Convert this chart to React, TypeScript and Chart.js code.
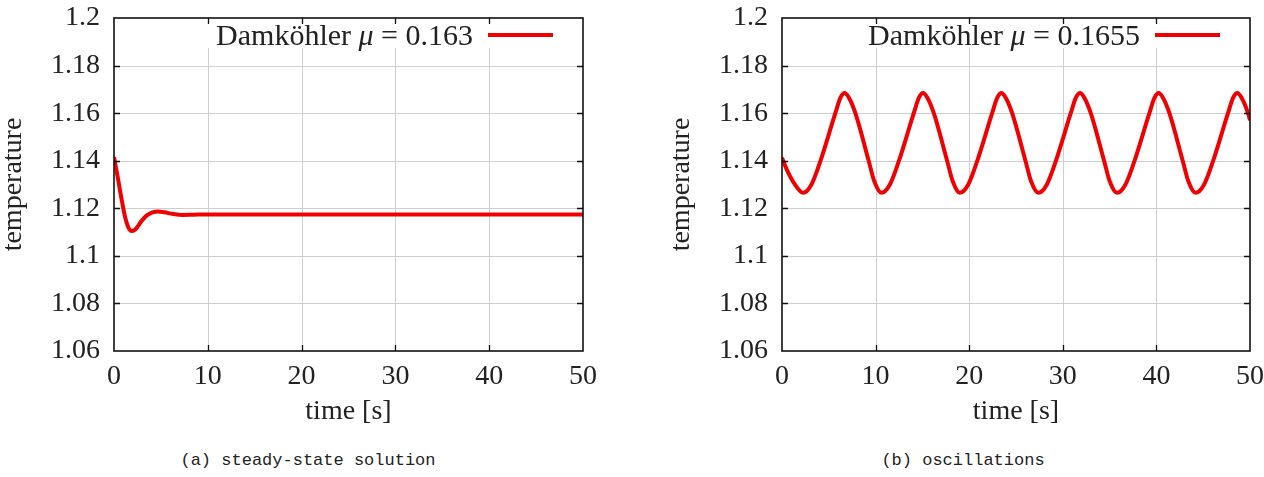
import React, { useEffect, useRef } from "react";
import { Chart, registerables } from "chart.js";

Chart.register(...registerables);

// ---------- data ----------
const timeSteady = [0, 0.4, 0.8, 1.2, 1.55, 1.9, 2.3, 2.9, 3.5, 4.1, 4.7, 5.4, 6.3, 7.3, 8.5, 10, 20, 30, 40, 50];
const tempSteady = [1.1415, 1.133, 1.124, 1.116, 1.1118, 1.1105, 1.1112, 1.1145, 1.117, 1.1183, 1.1187, 1.1183, 1.1176, 1.1172, 1.1173, 1.1174, 1.1174, 1.1174, 1.1174, 1.1174];

const timeOsc = [
  0, 0.6, 1.3, 2.25,
  3.15, 4.12, 5.7, 6.25, 6.69, 7.15, 7.84, 9.26, 9.85, 10.63,
  11.53, 12.5, 14.08, 14.63, 15.07, 15.53, 16.22, 17.64, 18.23, 19.0,
  19.9, 20.87, 22.45, 23.0, 23.44, 23.9, 24.59, 26.01, 26.6, 27.4,
  28.3, 29.27, 30.85, 31.4, 31.84, 32.3, 32.99, 34.41, 35.0, 35.8,
  36.7, 37.67, 39.25, 39.8, 40.24, 40.7, 41.39, 42.81, 43.4, 44.2,
  45.1, 46.07, 47.65, 48.2, 48.64, 49.1, 49.79, 50,
];
const tempOsc = [
  1.1412, 1.1355, 1.1305, 1.1265,
  1.13, 1.14, 1.16, 1.1665, 1.1685, 1.1665, 1.16, 1.14, 1.1315, 1.1265,
  1.13, 1.14, 1.16, 1.1665, 1.1685, 1.1665, 1.16, 1.14, 1.1315, 1.1265,
  1.13, 1.14, 1.16, 1.1665, 1.1685, 1.1665, 1.16, 1.14, 1.1315, 1.1265,
  1.13, 1.14, 1.16, 1.1665, 1.1685, 1.1665, 1.16, 1.14, 1.1315, 1.1265,
  1.13, 1.14, 1.16, 1.1665, 1.1685, 1.1665, 1.16, 1.14, 1.1315, 1.1265,
  1.13, 1.14, 1.16, 1.1665, 1.1685, 1.1665, 1.16, 1.157,
];

const xTickValues = [0, 10, 20, 30, 40, 50];
const xTickLabels = ["0", "10", "20", "30", "40", "50"];
const yTickValues = [1.06, 1.08, 1.1, 1.12, 1.14, 1.16, 1.18, 1.2];
const yTickLabels = ["1.06", "1.08", "1.1", "1.12", "1.14", "1.16", "1.18", "1.2"];

const legendPrefix = "Damköhler ";
const legendSymbol = "μ";
const legendValues = ["0.163", "0.1655"];
const xTitle = "time [s]";
const yTitle = "temperature";
const captions = ["(a) steady-state solution", "(b) oscillations"];

// ---------- styles ----------
const SERIF = "'Liberation Serif', 'DejaVu Serif', serif";
const TEXT = "#222";
const RED = "#f00000";
const GRID = "#cfcfcf";

const gnuplotPlugin = {
  id: "gnuplotFrame",
  beforeDatasetsDraw(chart: any) {
    const { ctx, chartArea: a, scales } = chart;
    ctx.save();
    ctx.strokeStyle = GRID;
    ctx.lineWidth = 1;
    yTickValues.slice(1, -1).forEach((v) => {
      const y = Math.round(scales.y.getPixelForValue(v)) + 0.5;
      ctx.beginPath();
      ctx.moveTo(a.left, y);
      ctx.lineTo(a.right, y);
      ctx.stroke();
    });
    xTickValues.slice(1, -1).forEach((v) => {
      const x = Math.round(scales.x.getPixelForValue(v)) + 0.5;
      ctx.beginPath();
      ctx.moveTo(x, a.top + 30);
      ctx.lineTo(x, a.bottom);
      ctx.stroke();
    });
    ctx.restore();
  },
  afterDatasetsDraw(chart: any) {
    const { ctx, chartArea: a, scales } = chart;
    ctx.save();
    ctx.strokeStyle = "#111";
    ctx.lineWidth = 1.6;
    ctx.strokeRect(a.left, a.top, a.right - a.left, a.bottom - a.top);
    ctx.lineWidth = 1.3;
    const tl = 6;
    yTickValues.slice(1, -1).forEach((v) => {
      const y = Math.round(scales.y.getPixelForValue(v)) + 0.5;
      ctx.beginPath();
      ctx.moveTo(a.left, y);
      ctx.lineTo(a.left + tl, y);
      ctx.moveTo(a.right, y);
      ctx.lineTo(a.right - tl, y);
      ctx.stroke();
    });
    xTickValues.slice(1, -1).forEach((v) => {
      const x = Math.round(scales.x.getPixelForValue(v)) + 0.5;
      ctx.beginPath();
      ctx.moveTo(x, a.top);
      ctx.lineTo(x, a.top + tl);
      ctx.moveTo(x, a.bottom);
      ctx.lineTo(x, a.bottom - tl);
      ctx.stroke();
    });
    // legend (key)
    const value = chart.options.plugins.gnuplotFrame.value as string;
    const baseY = a.top + 27;
    const textRight = a.right - 110;
    const fNormal = `30px ${SERIF}`;
    const fItalic = `italic 30px ${SERIF}`;
    const rest = " = " + value;
    ctx.font = fNormal;
    const wPrefix = ctx.measureText(legendPrefix).width;
    const wRest = ctx.measureText(rest).width;
    ctx.font = fItalic;
    const wSym = ctx.measureText(legendSymbol).width;
    let x = textRight - (wPrefix + wSym + wRest);
    ctx.fillStyle = TEXT;
    ctx.textBaseline = "alphabetic";
    ctx.textAlign = "left";
    ctx.font = fNormal;
    ctx.fillText(legendPrefix, x, baseY);
    x += wPrefix;
    ctx.font = fItalic;
    ctx.fillText(legendSymbol, x, baseY);
    x += wSym;
    ctx.font = fNormal;
    ctx.fillText(rest, x, baseY);
    ctx.strokeStyle = RED;
    ctx.lineWidth = 4;
    ctx.beginPath();
    ctx.moveTo(a.right - 95, a.top + 17);
    ctx.lineTo(a.right - 30, a.top + 17);
    ctx.stroke();
    ctx.restore();
  },
};

type PanelProps = {
  times: number[];
  temps: number[];
  value: string;
  left: number;
  width: number;
  padRight: number;
};

function Panel({ times, temps, value, left, width, padRight }: PanelProps) {
  const ref = useRef<HTMLCanvasElement>(null);
  useEffect(() => {
    if (!ref.current) return;
    const font = { family: SERIF, size: 28 };
    const chart = new Chart(ref.current, {
      type: "line",
      data: {
        datasets: [
          {
            label: legendPrefix + legendSymbol + " = " + value,
            data: times.map((t, i) => ({ x: t, y: temps[i] })),
            borderColor: RED,
            borderWidth: 4,
            pointRadius: 0,
            cubicInterpolationMode: "monotone",
            fill: false,
          },
        ],
      },
      options: {
        animation: false,
        responsive: false,
        devicePixelRatio: 1,
        layout: { padding: { left: 0, top: 18, right: padRight, bottom: 0 } },
        plugins: {
          legend: { display: false },
          tooltip: { enabled: false },
          gnuplotFrame: { value },
        } as any,
        scales: {
          x: {
            type: "linear",
            min: 0,
            max: 50,
            afterBuildTicks: (s: any) => {
              s.ticks = xTickValues.map((v) => ({ value: v }));
            },
            afterFit: (s: any) => {
              s.height = 79;
              s.paddingLeft = 0;
              s.paddingRight = 0;
            },
            grid: { display: false, drawTicks: false },
            border: { display: false },
            ticks: {
              callback: (_v: any, i: number) => xTickLabels[i],
              font,
              color: TEXT,
              padding: 9,
              maxRotation: 0,
              autoSkip: false,
            },
            title: { display: true, text: xTitle, font, color: TEXT, padding: { top: 0, bottom: 2 } },
          },
          y: {
            type: "linear",
            min: 1.06,
            max: 1.2,
            afterBuildTicks: (s: any) => {
              s.ticks = yTickValues.map((v) => ({ value: v }));
            },
            afterFit: (s: any) => {
              s.width = 114;
              s.paddingTop = 0;
              s.paddingBottom = 0;
            },
            grid: { display: false, drawTicks: false },
            border: { display: false },
            ticks: {
              callback: (_v: any, i: number) => yTickLabels[i],
              font,
              color: TEXT,
              padding: 14,
              autoSkip: false,
            },
            title: { display: true, text: yTitle, font: { ...font, lineHeight: 1.0 }, color: TEXT, padding: { top: 0, bottom: 0 } },
          },
        },
      },
      plugins: [gnuplotPlugin],
    } as any);
    return () => chart.destroy();
  }, []);
  return (
    <canvas
      ref={ref}
      width={width}
      height={430}
      style={{ position: "absolute", left, top: 0, width, height: 430 }}
    />
  );
}

export default function App() {
  const capStyle: React.CSSProperties = {
    position: "absolute",
    top: 450,
    width: 400,
    textAlign: "center",
    fontFamily: "'Liberation Mono', 'DejaVu Sans Mono', monospace",
    fontSize: 17,
    lineHeight: "22px",
    color: "#222",
  };
  return (
    <div style={{ position: "absolute", left: 0, top: 0, width: 1264, height: 477, background: "#fff", overflow: "hidden" }}>
      <Panel times={timeSteady} temps={tempSteady} value={legendValues[0]} left={0} width={632} padRight={49} />
      <Panel times={timeOsc} temps={tempOsc} value={legendValues[1]} left={668} width={596} padRight={14} />
      <div style={{ ...capStyle, left: 308 - 200 }}>{captions[0]}</div>
      <div style={{ ...capStyle, left: 963 - 200 }}>{captions[1]}</div>
    </div>
  );
}
